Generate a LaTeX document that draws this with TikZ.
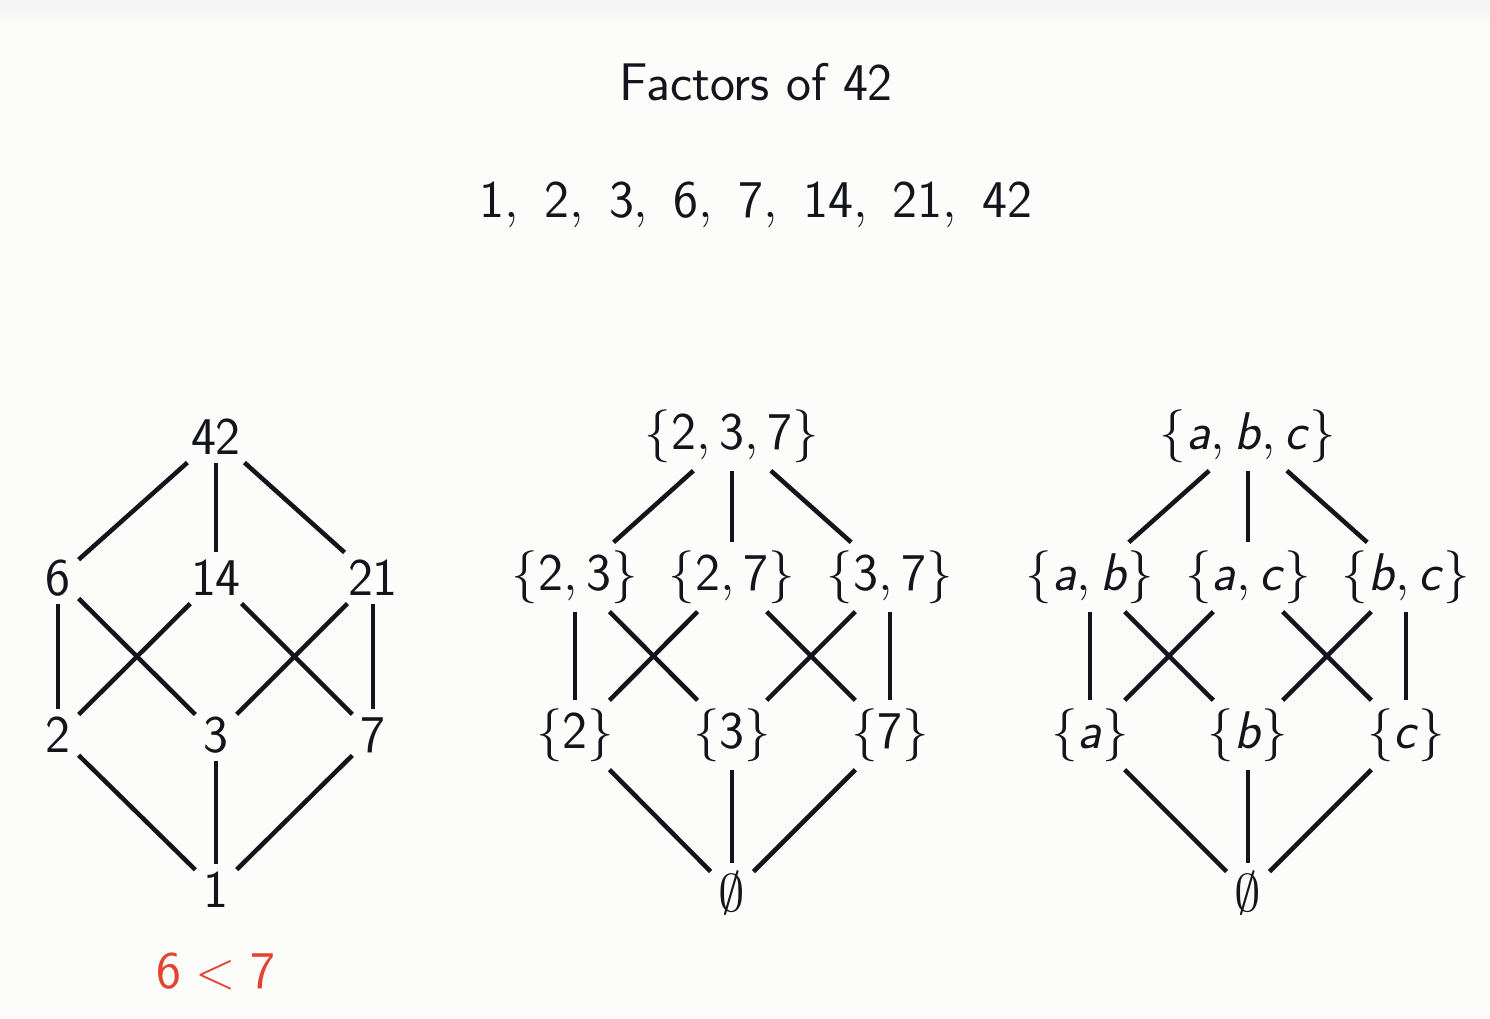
\RequirePackage{fix-cm}
\documentclass[tikz,border=0pt]{standalone}
\renewcommand\familydefault{\sfdefault}
\definecolor{ink}{RGB}{20,20,28}
\definecolor{redtxt}{RGB}{226,68,48}
\definecolor{bg}{RGB}{252,253,251}
\definecolor{topband}{RGB}{244,242,243}
\newcommand{\dg}[1]{\mathsf{#1}}
\newcommand{\iv}[1]{\textsf{\textit{#1}}}
\tikzset{
  lbl/.style={font=\fontsize{53}{62}\selectfont, text=ink, inner sep=8pt},
  headtxt/.style={font=\fontsize{53}{62}\selectfont, text=ink, inner sep=0pt},
  ed/.style={line width=4.5pt, draw=ink}
}
\begin{document}
\begin{tikzpicture}[x=1pt,y=-1pt]
\useasboundingbox (0,0) rectangle (1490,1018);
\fill[bg] (0,0) rectangle (1490,1018);
\shade[top color=topband, bottom color=bg] (0,0) rectangle (1490,26);

\node[headtxt] (title) at (756,82) {Factors of 42};
\node[headtxt] (list) at (756,205) {$\dg{1},\ \dg{2},\ \dg{3},\ \dg{6},\ \dg{7},\ \dg{14},\ \dg{21},\ \dg{42}$};

% left lattice
\node[lbl] (n42) at (216,437) {$\dg{42}$};
\node[lbl] (n6)  at (58,578)  {$\dg{6}$};
\node[lbl] (n14) at (216,578) {$\dg{14}$};
\node[lbl] (n21) at (373,578) {$\dg{21}$};
\node[lbl] (n2)  at (58,735)  {$\dg{2}$};
\node[lbl] (n3)  at (216,735) {$\dg{3}$};
\node[lbl] (n7)  at (373,735) {$\dg{7}$};
\node[lbl] (n1)  at (216,890) {$\dg{1}$};
\node[headtxt, text=redtxt] (cmp) at (216,972) {$\dg{6} < \dg{7}$};

\draw[ed] (n42) -- (n6);  \draw[ed] (n42) -- (n14); \draw[ed] (n42) -- (n21);
\draw[ed] (n6) -- (n2);   \draw[ed] (n6) -- (n3);
\draw[ed] (n14) -- (n2);  \draw[ed] (n14) -- (n7);
\draw[ed] (n21) -- (n3);  \draw[ed] (n21) -- (n7);
\draw[ed] (n2) -- (n1);   \draw[ed] (n3) -- (n1);   \draw[ed] (n7) -- (n1);

% middle lattice
\node[lbl] (m237) at (732,436) {$\{\dg{2},\dg{3},\dg{7}\}$};
\node[lbl] (m23)  at (575,577) {$\{\dg{2},\dg{3}\}$};
\node[lbl] (m27)  at (732,577) {$\{\dg{2},\dg{7}\}$};
\node[lbl] (m37)  at (890,577) {$\{\dg{3},\dg{7}\}$};
\node[lbl] (m2)   at (575,735) {$\{\dg{2}\}$};
\node[lbl] (m3)   at (732,735) {$\{\dg{3}\}$};
\node[lbl] (m7)   at (890,735) {$\{\dg{7}\}$};
\node[lbl] (me)   at (732,893) {$\emptyset$};

\draw[ed] (m237) -- (m23); \draw[ed] (m237) -- (m27); \draw[ed] (m237) -- (m37);
\draw[ed] (m23) -- (m2);   \draw[ed] (m23) -- (m3);
\draw[ed] (m27) -- (m2);   \draw[ed] (m27) -- (m7);
\draw[ed] (m37) -- (m3);   \draw[ed] (m37) -- (m7);
\draw[ed] (m2) -- (me);    \draw[ed] (m3) -- (me);    \draw[ed] (m7) -- (me);

% right lattice
\node[lbl] (rabc) at (1248,436) {$\{\iv{a},\iv{b},\iv{c}\}$};
\node[lbl] (rab)  at (1090,577) {$\{\iv{a},\iv{b}\}$};
\node[lbl] (rac)  at (1248,577) {$\{\iv{a},\iv{c}\}$};
\node[lbl] (rbc)  at (1406,577) {$\{\iv{b},\iv{c}\}$};
\node[lbl] (ra)   at (1090,735) {$\{\iv{a}\}$};
\node[lbl] (rb)   at (1248,735) {$\{\iv{b}\}$};
\node[lbl] (rc)   at (1406,735) {$\{\iv{c}\}$};
\node[lbl] (re)   at (1248,893) {$\emptyset$};

\draw[ed] (rabc) -- (rab); \draw[ed] (rabc) -- (rac); \draw[ed] (rabc) -- (rbc);
\draw[ed] (rab) -- (ra);   \draw[ed] (rab) -- (rb);
\draw[ed] (rac) -- (ra);   \draw[ed] (rac) -- (rc);
\draw[ed] (rbc) -- (rb);   \draw[ed] (rbc) -- (rc);
\draw[ed] (ra) -- (re);    \draw[ed] (rb) -- (re);    \draw[ed] (rc) -- (re);
\end{tikzpicture}
\end{document}
